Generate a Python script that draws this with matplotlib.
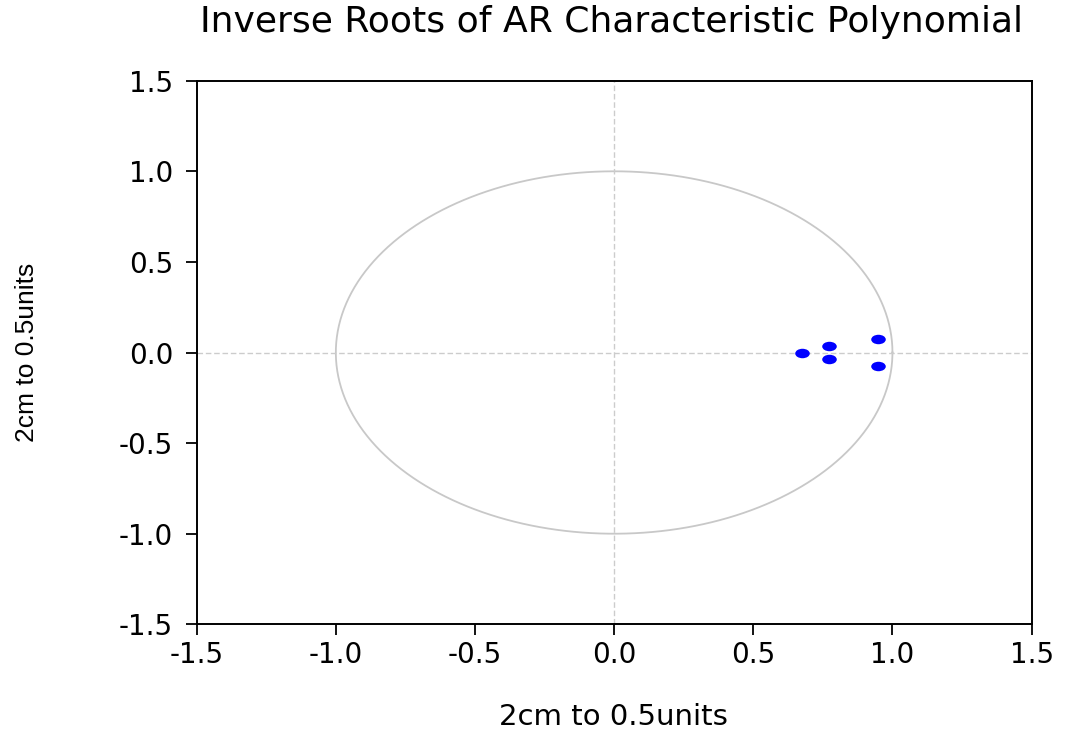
import numpy as np
import matplotlib
matplotlib.use("Agg")
import matplotlib.pyplot as plt
from matplotlib.path import Path
from matplotlib.transforms import Affine2D

# inverse roots
root_re = [0.676, 0.771, 0.771, 0.949, 0.949]
root_im = [0.0, 0.037, -0.037, 0.076, -0.076]
ticks = [-1.5, -1.0, -0.5, 0.0, 0.5, 1.0, 1.5]

plt.rcParams['font.family'] = ['DejaVu Sans']

fig = plt.figure(figsize=(10.8, 7.35), dpi=100)
ax = fig.add_axes([0.1821, 0.1506, 0.7731, 0.7396])

# unit circle
t = np.linspace(0, 2 * np.pi, 400)
ax.plot(np.cos(t), np.sin(t), color='#c8c8c8', lw=1.3, zorder=1)

# crosshair
ax.axhline(0, color='#cccccc', lw=1.0, ls=(0, (4, 2)), zorder=1)
ax.axvline(0, color='#cccccc', lw=1.0, ls=(0, (4, 2)), zorder=1)

# ellipse marker
ell = Path.unit_circle().transformed(Affine2D().scale(1.0, 0.65))
ax.scatter(root_re, root_im, marker=ell, s=110, color='#0000ff', zorder=3, linewidths=0)

ax.set_xlim(-1.5, 1.5)
ax.set_ylim(-1.5, 1.5)
ax.set_xticks(ticks)
ax.set_yticks(ticks)
ax.set_xticklabels(['%.1f' % v for v in ticks])
ax.set_yticklabels(['%.1f' % v for v in ticks])
ax.tick_params(direction='out', length=8, width=1.3, labelsize=20, colors='black')
ax.tick_params(axis='y', pad=9)
ax.tick_params(axis='x', pad=4)
for s in ax.spines.values():
    s.set_linewidth(1.4)

fig.text(0.568, (735 - 717) / 735, '2cm to 0.5units', fontsize=21,
         ha='center', va='center')
fig.text(27 / 1080, (735 - 352) / 735, '2cm to 0.5units', fontsize=19,
         rotation=90, ha='center', va='center', family='Liberation Sans')

fig.text(611 / 1080, (735 - 22) / 735, 'Inverse Roots of AR Characteristic Polynomial',
         fontsize=26, ha='center', va='center')

plt.savefig('out.png', dpi=100)
